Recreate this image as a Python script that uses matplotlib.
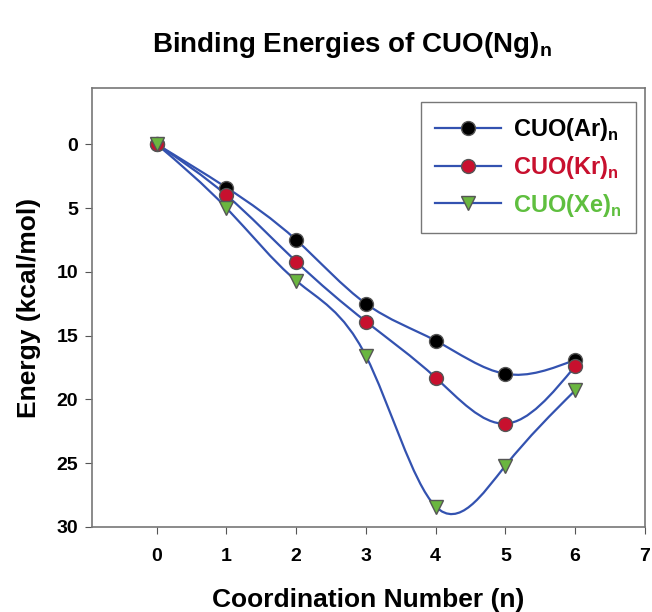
import numpy as np
import matplotlib.pyplot as plt
from matplotlib.path import Path
from matplotlib.patches import PathPatch

plt.rcParams['font.family'] = ['Liberation Sans', 'DejaVu Sans']

n = [0, 1, 2, 3, 4, 5, 6]
ar = [0.0, 3.4, 7.5, 12.5, 15.4, 18.0, 16.9]
kr = [0.0, 4.0, 9.2, 13.9, 18.3, 21.9, 17.4]
xe = [0.0, 5.0, 10.7, 16.6, 28.4, 25.2, 19.3]

labels = ['CUO(Ar)$_\\mathregular{n}$', 'CUO(Kr)$_\\mathregular{n}$', 'CUO(Xe)$_\\mathregular{n}$']
text_colors = ['black', '#c8102e', '#5fbf3f']
line_color = '#3352b0'


def spline_path(x, y):
    # natural cubic spline, written as bezier segments
    x = np.asarray(x, float)
    y = np.asarray(y, float)
    k = len(x)
    h = np.diff(x)
    A = np.zeros((k, k))
    b = np.zeros(k)
    A[0, 0] = A[-1, -1] = 1
    for i in range(1, k - 1):
        A[i, i - 1] = h[i - 1]
        A[i, i] = 2 * (h[i - 1] + h[i])
        A[i, i + 1] = h[i]
        b[i] = 6 * ((y[i + 1] - y[i]) / h[i] - (y[i] - y[i - 1]) / h[i - 1])
    M = np.linalg.solve(A, b)
    verts = [(x[0], y[0])]
    codes = [Path.MOVETO]
    for i in range(k - 1):
        s = (y[i + 1] - y[i]) / h[i]
        d0 = s - h[i] * (2 * M[i] + M[i + 1]) / 6
        d1 = s + h[i] * (M[i] + 2 * M[i + 1]) / 6
        verts += [(x[i] + h[i] / 3, y[i] + d0 * h[i] / 3),
                  (x[i + 1] - h[i] / 3, y[i + 1] - d1 * h[i] / 3),
                  (x[i + 1], y[i + 1])]
        codes += [Path.CURVE4] * 3
    return Path(verts, codes)


fig = plt.figure(figsize=(6.52, 6.12), dpi=100)
ax = fig.add_axes([0.141, 0.139, 0.848, 0.717])

styles = [
    dict(marker='o', markerfacecolor='black', markeredgecolor='#555555', markersize=10),
    dict(marker='o', markerfacecolor='#c8102e', markeredgecolor='#555555', markersize=10),
    dict(marker='v', markerfacecolor='#6ab63f', markeredgecolor='#555555', markersize=10),
]

handles = []
for data, st, lab in zip([ar, kr, xe], styles, labels):
    ax.add_patch(PathPatch(spline_path(n, data), facecolor='none', edgecolor=line_color, lw=1.6, zorder=2))
    h, = ax.plot([], [], color=line_color, lw=1.6, label=lab, **st)
    ax.plot(n, data, linestyle='none', zorder=3, **st)
    handles.append(h)

ax.set_xlim(-0.93, 7)
ax.set_ylim(30, -4.4)
ax.set_xticks(range(0, 8))
ax.set_yticks(range(0, 31, 5))
ax.tick_params(axis='x', direction='out', length=5, pad=10, labelsize=14, colors='#555555', labelcolor='black')
ax.tick_params(axis='y', direction='out', length=5, pad=5, labelsize=14, colors='#555555', labelcolor='black')
for lab in ax.get_xticklabels() + ax.get_yticklabels():
    lab.set_fontweight('bold')
for sp in ax.spines.values():
    sp.set_color('#777777')
    sp.set_linewidth(1.2)

ax.set_xlabel('Coordination Number (n)', fontsize=19, fontweight='bold', labelpad=17)
ax.set_ylabel('Energy (kcal/mol)', fontsize=19, fontweight='bold', labelpad=11)
fig.text(0.54, 0.926, 'Binding Energies of CUO(Ng)$_\\mathregular{n}$', fontsize=20, fontweight='bold',
         ha='center', va='center')

leg = fig.legend(handles=handles, loc='upper right', bbox_to_anchor=(0.975, 0.833), borderaxespad=0,
                 prop={'weight': 'bold', 'size': 17}, fancybox=False, edgecolor='#555555',
                 handlelength=2.8, handletextpad=0.5, borderpad=0.6, labelspacing=0.45)
leg.get_frame().set_linewidth(1.0)
for t, c in zip(leg.get_texts(), text_colors):
    t.set_color(c)

fig.savefig('out.png', dpi=100)
